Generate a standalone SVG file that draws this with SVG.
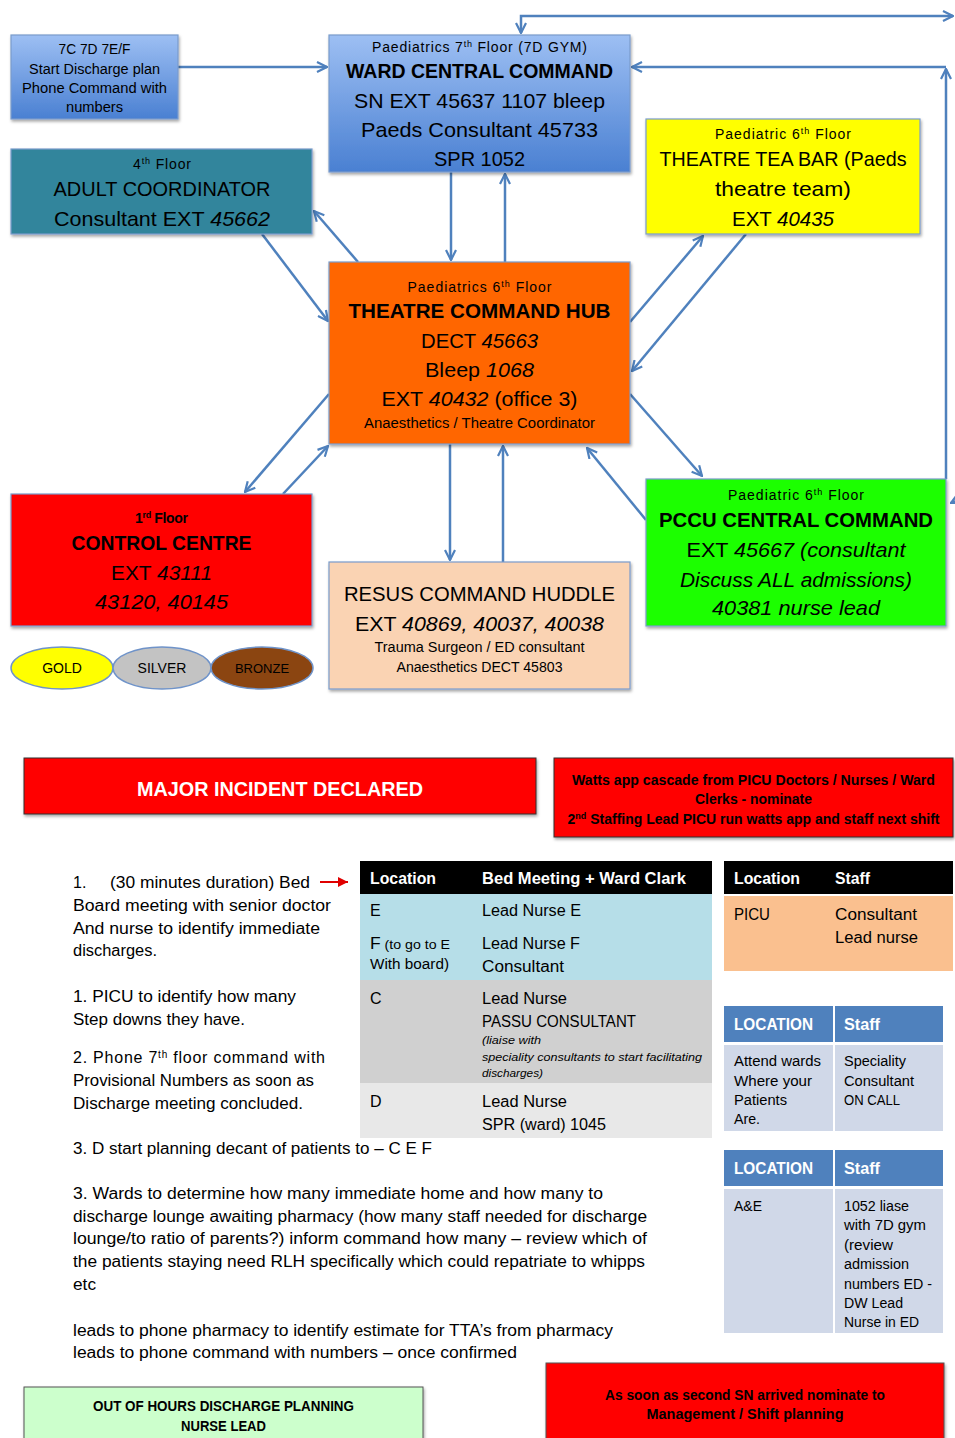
<svg xmlns="http://www.w3.org/2000/svg" width="955" height="1438" viewBox="0 0 955 1438">
<defs>
<linearGradient id="gBlue" x1="0" y1="0" x2="0" y2="1">
<stop offset="0" stop-color="#9DBFF3"/><stop offset="1" stop-color="#4A80D2"/>
</linearGradient>
<filter id="sh" x="-5%" y="-5%" width="110%" height="115%">
<feDropShadow dx="1" dy="2" stdDeviation="1.5" flood-color="#000" flood-opacity="0.35"/>
</filter>
<marker id="ah" viewBox="0 0 12 12" refX="11" refY="6" markerWidth="12" markerHeight="12" markerUnits="userSpaceOnUse" orient="auto-start-reverse">
<path d="M1,1 L11,6 L1,11" fill="none" stroke="#4F81BD" stroke-width="2.2"/>
</marker>
<marker id="rah" viewBox="0 0 12 12" refX="11" refY="6" markerWidth="12" markerHeight="12" markerUnits="userSpaceOnUse" orient="auto">
<path d="M1,1 L11,6 L1,11 Z" fill="#E00000"/>
</marker>
</defs>
<style>
text{font-family:"Liberation Sans",Arial,sans-serif;fill:#000}
.c{text-anchor:middle}
.b{font-weight:bold}
.i{font-style:italic}
.s14{font-size:14px}
.s13{font-size:13px}
.s21{font-size:21px}
.s16{font-size:16px}
.w{fill:#fff}
.box{stroke:#7A9CCB;stroke-width:1.2}
.con{fill:none;stroke:#4F81BD;stroke-width:2.5}
.ls{letter-spacing:1px}
</style>
<rect width="955" height="1438" fill="#fff"/>

<g id="connectors">
<path class="con" d="M178,67 L327,67" marker-end="url(#ah)"/>
<path class="con" d="M521,33 L521,16 L953,16" marker-start="url(#ah)" marker-end="url(#ah)"/>
<path class="con" d="M946,479 L946,69" marker-end="url(#ah)"/>
<path class="con" d="M946,67 L632,67" marker-end="url(#ah)"/>
<path class="con" d="M951,503 L955,501" marker-start="url(#ah)"/>
<path class="con" d="M451,172 L451,260" marker-end="url(#ah)"/>
<path class="con" d="M505,262 L505,174" marker-end="url(#ah)"/>
<path class="con" d="M262,234 L328,321" marker-end="url(#ah)"/>
<path class="con" d="M358,262 L314,211" marker-end="url(#ah)"/>
<path class="con" d="M630,322 L703,236" marker-end="url(#ah)"/>
<path class="con" d="M746,234 L632,371" marker-end="url(#ah)"/>
<path class="con" d="M329,394 L245,492" marker-end="url(#ah)"/>
<path class="con" d="M283,494 L328,446" marker-end="url(#ah)"/>
<path class="con" d="M450,444 L450,560" marker-end="url(#ah)"/>
<path class="con" d="M503,562 L503,446" marker-end="url(#ah)"/>
<path class="con" d="M630,394 L702,476" marker-end="url(#ah)"/>
<path class="con" d="M646,520 L587,448" marker-end="url(#ah)"/>
</g>

<g id="node-wards7">
<rect class="box" x="11" y="35" width="167" height="84" fill="url(#gBlue)" filter="url(#sh)"/>
<text class="c s14" x="94.5" y="54" textLength="72" lengthAdjust="spacingAndGlyphs">7C 7D 7E/F</text>
<text class="c s14" x="94.5" y="74" textLength="131" lengthAdjust="spacingAndGlyphs">Start Discharge plan</text>
<text class="c s14" x="94.5" y="93" textLength="145" lengthAdjust="spacingAndGlyphs">Phone Command with</text>
<text class="c s14" x="94.5" y="112" textLength="57" lengthAdjust="spacingAndGlyphs">numbers</text>
</g>

<g id="node-ward-central">
<rect class="box" x="329" y="35" width="301" height="137" fill="url(#gBlue)" filter="url(#sh)"/>
<text class="c s14" x="479.5" y="52" textLength="215" lengthAdjust="spacing">Paediatrics 7<tspan font-size="9" baseline-shift="super">th</tspan> Floor (7D GYM)</text>
<text class="c b s21" x="479.5" y="78" textLength="267" lengthAdjust="spacingAndGlyphs">WARD CENTRAL COMMAND</text>
<text class="c s21" x="479.5" y="108" textLength="251" lengthAdjust="spacingAndGlyphs">SN EXT 45637 1107 bleep</text>
<text class="c s21" x="479.5" y="137" textLength="237" lengthAdjust="spacingAndGlyphs">Paeds Consultant 45733</text>
<text class="c s21" x="479.5" y="166" textLength="91" lengthAdjust="spacingAndGlyphs">SPR 1052</text>
</g>

<g id="node-adult-coord">
<rect class="box" x="11" y="149" width="301" height="85" fill="#31859C" filter="url(#sh)"/>
<text class="c s14" x="162" y="169" textLength="58" lengthAdjust="spacing">4<tspan font-size="9" baseline-shift="super">th</tspan> Floor</text>
<text class="c s21" x="162" y="196" textLength="217" lengthAdjust="spacingAndGlyphs">ADULT COORDINATOR</text>
<text class="c s21" x="162" y="226" textLength="216" lengthAdjust="spacingAndGlyphs">Consultant EXT <tspan class="i">45662</tspan></text>
</g>

<g id="node-tea-bar">
<rect class="box" x="646" y="119" width="274" height="115" fill="#FFFF00" filter="url(#sh)"/>
<text class="c s14" x="783" y="139" textLength="136" lengthAdjust="spacing">Paediatric 6<tspan font-size="9" baseline-shift="super">th</tspan> Floor</text>
<text class="c s21" x="783" y="166" textLength="247" lengthAdjust="spacingAndGlyphs">THEATRE TEA BAR (Paeds</text>
<text class="c s21" x="783" y="196" textLength="136" lengthAdjust="spacingAndGlyphs">theatre team)</text>
<text class="c s21" x="783" y="226" textLength="102" lengthAdjust="spacingAndGlyphs">EXT <tspan class="i">40435</tspan></text>
</g>

<g id="node-theatre-hub">
<rect class="box" x="329" y="262" width="301" height="182" fill="#FF6600" filter="url(#sh)"/>
<text class="c s14" x="479.5" y="292" textLength="144" lengthAdjust="spacing">Paediatrics 6<tspan font-size="9" baseline-shift="super">th</tspan> Floor</text>
<text class="c b s21" x="479.5" y="318" textLength="262" lengthAdjust="spacingAndGlyphs">THEATRE COMMAND HUB</text>
<text class="c s21" x="479.5" y="348" textLength="117" lengthAdjust="spacingAndGlyphs">DECT <tspan class="i">45663</tspan></text>
<text class="c s21" x="479.5" y="377" textLength="109" lengthAdjust="spacingAndGlyphs">Bleep <tspan class="i">1068</tspan></text>
<text class="c s21" x="479.5" y="406" textLength="196" lengthAdjust="spacingAndGlyphs">EXT <tspan class="i">40432</tspan> (office 3)</text>
<text class="c s14" x="479.5" y="428" textLength="231" lengthAdjust="spacingAndGlyphs">Anaesthetics / Theatre Coordinator</text>
</g>

<g id="node-control-centre">
<rect class="box" x="11" y="494" width="301" height="132" fill="#FF0000" filter="url(#sh)"/>
<text class="c b s14" x="161.5" y="523" textLength="53" lengthAdjust="spacing">1<tspan font-size="9" baseline-shift="super">rd</tspan> Floor</text>
<text class="c b s21" x="161.5" y="550" textLength="180" lengthAdjust="spacingAndGlyphs">CONTROL CENTRE</text>
<text class="c s21" x="161.5" y="580" textLength="101" lengthAdjust="spacingAndGlyphs">EXT <tspan class="i">43111</tspan></text>
<text class="c s21 i" x="161.5" y="609" textLength="133" lengthAdjust="spacingAndGlyphs">43120, 40145</text>
</g>

<g id="node-gold">
<ellipse cx="62" cy="668" rx="51" ry="21" fill="#FFFF00" stroke="#6F93C9" stroke-width="1.5"/>
<text class="c s14" x="62" y="673">GOLD</text>
</g>
<g id="node-silver">
<ellipse cx="162" cy="668" rx="49" ry="21" fill="#C3C3C3" stroke="#6F93C9" stroke-width="1.5"/>
<text class="c s14" x="162" y="673">SILVER</text>
</g>
<g id="node-bronze">
<ellipse cx="262" cy="668" rx="51" ry="21" fill="#8B4511" stroke="#6F93C9" stroke-width="1.5"/>
<text class="c s13" x="262" y="673" fill="#111">BRONZE</text>
</g>

<g id="node-resus">
<rect class="box" x="329" y="562" width="301" height="127" fill="#FAD3B3" filter="url(#sh)"/>
<text class="c s21" x="479.5" y="601" textLength="271" lengthAdjust="spacingAndGlyphs">RESUS COMMAND HUDDLE</text>
<text class="c s21" x="479.5" y="631" textLength="249" lengthAdjust="spacingAndGlyphs">EXT <tspan class="i">40869, 40037, 40038</tspan></text>
<text class="c s14" x="479.5" y="652" textLength="210" lengthAdjust="spacingAndGlyphs">Trauma Surgeon / ED consultant</text>
<text class="c s14" x="479.5" y="672" textLength="166" lengthAdjust="spacingAndGlyphs">Anaesthetics DECT 45803</text>
</g>

<g id="node-pccu">
<rect class="box" x="646" y="479" width="300" height="147" fill="#1CFF00" filter="url(#sh)"/>
<text class="c s14" x="796" y="500" textLength="136" lengthAdjust="spacing">Paediatric 6<tspan font-size="9" baseline-shift="super">th</tspan> Floor</text>
<text class="c b s21" x="796" y="527" textLength="274" lengthAdjust="spacingAndGlyphs">PCCU CENTRAL COMMAND</text>
<text class="c s21" x="796" y="557" textLength="219" lengthAdjust="spacingAndGlyphs">EXT <tspan class="i">45667 (consultant</tspan></text>
<text class="c s21 i" x="796" y="587" textLength="232" lengthAdjust="spacingAndGlyphs">Discuss ALL admissions)</text>
<text class="c s21 i" x="796" y="615" textLength="168" lengthAdjust="spacingAndGlyphs">40381 nurse lead</text>
</g>

<g id="node-major-incident">
<rect x="24" y="758" width="512" height="56" fill="#FF0000" stroke="#333" stroke-width="1" filter="url(#sh)"/>
<text class="c b w" x="280" y="796" font-size="20" textLength="286" lengthAdjust="spacingAndGlyphs">MAJOR INCIDENT DECLARED</text>
</g>

<g id="node-watts">
<rect x="554" y="758" width="399" height="79" fill="#FF0000" stroke="#333" stroke-width="1" filter="url(#sh)"/>
<text class="c b s14" x="753.5" y="785" textLength="363" lengthAdjust="spacingAndGlyphs">Watts app cascade from PICU Doctors / Nurses / Ward</text>
<text class="c b s14" x="753.5" y="804" textLength="117" lengthAdjust="spacingAndGlyphs">Clerks - nominate</text>
<text class="c b s14" x="753.5" y="824" textLength="372" lengthAdjust="spacingAndGlyphs">2<tspan font-size="9" baseline-shift="super">nd</tspan> Staffing Lead PICU run watts app and staff next shift</text>
</g>

<g id="notes">
<text class="s16" x="73" y="888">1.</text>
<text class="s16" x="110" y="888" textLength="200" lengthAdjust="spacingAndGlyphs">(30 minutes duration) Bed</text>
<path d="M320,882 L348,882" stroke="#E00000" stroke-width="2" marker-end="url(#rah)"/>
<text class="s16" x="73" y="911" textLength="258" lengthAdjust="spacingAndGlyphs">Board meeting with senior doctor</text>
<text class="s16" x="73" y="934" textLength="247" lengthAdjust="spacingAndGlyphs">And nurse to identify immediate</text>
<text class="s16" x="73" y="956" textLength="84" lengthAdjust="spacingAndGlyphs">discharges.</text>
<text class="s16" x="73" y="1002" textLength="223" lengthAdjust="spacingAndGlyphs">1. PICU to identify how many</text>
<text class="s16" x="73" y="1025" textLength="172" lengthAdjust="spacingAndGlyphs">Step downs they have.</text>
<text class="s16" x="73" y="1063" textLength="252" lengthAdjust="spacing">2. Phone 7<tspan font-size="10" baseline-shift="super">th</tspan> floor command with</text>
<text class="s16" x="73" y="1086" textLength="241" lengthAdjust="spacingAndGlyphs">Provisional Numbers as soon as</text>
<text class="s16" x="73" y="1109" textLength="230" lengthAdjust="spacingAndGlyphs">Discharge meeting concluded.</text>
<text class="s16" x="73" y="1154" textLength="359" lengthAdjust="spacingAndGlyphs">3. D start planning decant of patients to – C E F</text>
<text class="s16" x="73" y="1199" textLength="530" lengthAdjust="spacingAndGlyphs">3. Wards to determine how many immediate home and how many to</text>
<text class="s16" x="73" y="1222" textLength="574" lengthAdjust="spacingAndGlyphs">discharge lounge awaiting pharmacy (how many staff needed for discharge</text>
<text class="s16" x="73" y="1244" textLength="574" lengthAdjust="spacingAndGlyphs">lounge/to ratio of parents?) inform command how many – review which of</text>
<text class="s16" x="73" y="1267" textLength="572" lengthAdjust="spacingAndGlyphs">the patients staying need RLH specifically which could repatriate to whipps</text>
<text class="s16" x="73" y="1290" textLength="23" lengthAdjust="spacingAndGlyphs">etc</text>
<text class="s16" x="73" y="1336" textLength="540" lengthAdjust="spacingAndGlyphs">leads to phone pharmacy to identify estimate for TTA’s from pharmacy</text>
<text class="s16" x="73" y="1358" textLength="444" lengthAdjust="spacingAndGlyphs">leads to phone command with numbers – once confirmed</text>
</g>

<g id="table-bed-meeting">
<rect x="360" y="861" width="352" height="33" fill="#000"/>
<rect x="360" y="894" width="352" height="86" fill="#B6DEE8"/>
<rect x="360" y="980" width="352" height="103" fill="#D0D0D0"/>
<rect x="360" y="1083" width="352" height="55" fill="#E8E8E8"/>
<text class="b s16 w" x="370" y="884" textLength="66" lengthAdjust="spacingAndGlyphs">Location</text>
<text class="b s16 w" x="482" y="884" textLength="204" lengthAdjust="spacingAndGlyphs">Bed Meeting + Ward Clark</text>
<text class="s16" x="370" y="916">E</text>
<text class="s16" x="482" y="916" textLength="99" lengthAdjust="spacingAndGlyphs">Lead Nurse E</text>
<text class="s13" x="370" y="949" textLength="80" lengthAdjust="spacingAndGlyphs"><tspan font-size="16">F</tspan> (to go to E</text>
<text class="s14" x="370" y="969" textLength="79" lengthAdjust="spacingAndGlyphs">With board)</text>
<text class="s16" x="482" y="949" textLength="98" lengthAdjust="spacingAndGlyphs">Lead Nurse F</text>
<text class="s16" x="482" y="972" textLength="82" lengthAdjust="spacingAndGlyphs">Consultant</text>
<text class="s16" x="370" y="1004">C</text>
<text class="s16" x="482" y="1004" textLength="85" lengthAdjust="spacingAndGlyphs">Lead Nurse</text>
<text class="s16" x="482" y="1027" textLength="154" lengthAdjust="spacingAndGlyphs">PASSU CONSULTANT</text>
<text class="i" x="482" y="1044" font-size="11" textLength="59" lengthAdjust="spacingAndGlyphs">(liaise with</text>
<text class="i" x="482" y="1061" font-size="11" textLength="220" lengthAdjust="spacingAndGlyphs">speciality consultants to start facilitating</text>
<text class="i" x="482" y="1077" font-size="11" textLength="61" lengthAdjust="spacingAndGlyphs">discharges)</text>
<text class="s16" x="370" y="1107">D</text>
<text class="s16" x="482" y="1107" textLength="85" lengthAdjust="spacingAndGlyphs">Lead Nurse</text>
<text class="s16" x="482" y="1130" textLength="124" lengthAdjust="spacingAndGlyphs">SPR (ward) 1045</text>
</g>

<g id="table-picu">
<rect x="724" y="861" width="229" height="33" fill="#000"/>
<rect x="724" y="896" width="229" height="75" fill="#FAC08F"/>
<text class="b s16 w" x="734" y="884" textLength="66" lengthAdjust="spacingAndGlyphs">Location</text>
<text class="b s16 w" x="835" y="884" textLength="35" lengthAdjust="spacingAndGlyphs">Staff</text>
<text class="s16" x="734" y="920" textLength="36" lengthAdjust="spacingAndGlyphs">PICU</text>
<text class="s16" x="835" y="920" textLength="82" lengthAdjust="spacingAndGlyphs">Consultant</text>
<text class="s16" x="835" y="943" textLength="83" lengthAdjust="spacingAndGlyphs">Lead nurse</text>
</g>

<g id="table-speciality">
<rect x="724" y="1006" width="109" height="36" fill="#4F81BD"/>
<rect x="835" y="1006" width="108" height="36" fill="#4F81BD"/>
<rect x="724" y="1045" width="109" height="86" fill="#D0D8E8"/>
<rect x="835" y="1045" width="108" height="86" fill="#D0D8E8"/>
<text class="b s16 w" x="734" y="1030" textLength="79" lengthAdjust="spacingAndGlyphs">LOCATION</text>
<text class="b s16 w" x="844" y="1030" textLength="36" lengthAdjust="spacingAndGlyphs">Staff</text>
<text class="s14" x="734" y="1066" textLength="87" lengthAdjust="spacingAndGlyphs">Attend wards</text>
<text class="s14" x="734" y="1086" textLength="78" lengthAdjust="spacingAndGlyphs">Where your</text>
<text class="s14" x="734" y="1105" textLength="53" lengthAdjust="spacingAndGlyphs">Patients</text>
<text class="s14" x="734" y="1124" textLength="26" lengthAdjust="spacingAndGlyphs">Are.</text>
<text class="s14" x="844" y="1066" textLength="62" lengthAdjust="spacingAndGlyphs">Speciality</text>
<text class="s14" x="844" y="1086" textLength="70" lengthAdjust="spacingAndGlyphs">Consultant</text>
<text class="s14" x="844" y="1105" textLength="56" lengthAdjust="spacingAndGlyphs">ON CALL</text>
</g>

<g id="table-ae">
<rect x="724" y="1150" width="109" height="36" fill="#4F81BD"/>
<rect x="835" y="1150" width="108" height="36" fill="#4F81BD"/>
<rect x="724" y="1189" width="109" height="144" fill="#D0D8E8"/>
<rect x="835" y="1189" width="108" height="144" fill="#D0D8E8"/>
<text class="b s16 w" x="734" y="1174" textLength="79" lengthAdjust="spacingAndGlyphs">LOCATION</text>
<text class="b s16 w" x="844" y="1174" textLength="36" lengthAdjust="spacingAndGlyphs">Staff</text>
<text class="s14" x="734" y="1211" textLength="28" lengthAdjust="spacingAndGlyphs">A&amp;E</text>
<text class="s14" x="844" y="1211" textLength="65" lengthAdjust="spacingAndGlyphs">1052 liase</text>
<text class="s14" x="844" y="1230" textLength="82" lengthAdjust="spacingAndGlyphs">with 7D gym</text>
<text class="s14" x="844" y="1250" textLength="49" lengthAdjust="spacingAndGlyphs">(review</text>
<text class="s14" x="844" y="1269" textLength="65" lengthAdjust="spacingAndGlyphs">admission</text>
<text class="s14" x="844" y="1289" textLength="88" lengthAdjust="spacingAndGlyphs">numbers ED -</text>
<text class="s14" x="844" y="1308" textLength="59" lengthAdjust="spacingAndGlyphs">DW Lead</text>
<text class="s14" x="844" y="1327" textLength="75" lengthAdjust="spacingAndGlyphs">Nurse in ED</text>
</g>

<g id="node-out-of-hours">
<rect x="24" y="1387" width="399" height="60" fill="#CCFFCC" stroke="#555" stroke-width="1" filter="url(#sh)"/>
<text class="c b s14" x="223.5" y="1411" textLength="261" lengthAdjust="spacingAndGlyphs">OUT OF HOURS DISCHARGE PLANNING</text>
<text class="c b s14" x="223.5" y="1431" textLength="85" lengthAdjust="spacingAndGlyphs">NURSE LEAD</text>
</g>

<g id="node-second-sn">
<rect x="546" y="1363" width="398" height="90" fill="#FF0000" stroke="#555" stroke-width="1" filter="url(#sh)"/>
<text class="c b s14" x="745" y="1400" textLength="280" lengthAdjust="spacingAndGlyphs">As soon as second SN arrived nominate to</text>
<text class="c b s14" x="745" y="1419" textLength="197" lengthAdjust="spacingAndGlyphs">Management / Shift planning</text>
</g>
</svg>
